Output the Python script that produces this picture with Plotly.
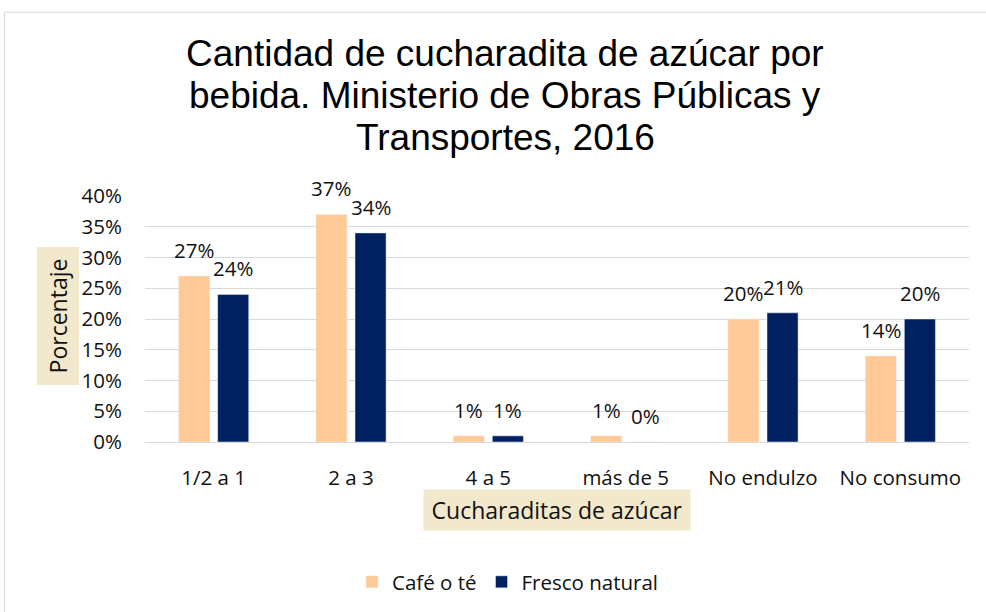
import plotly.graph_objects as go

categories = ["1/2 a 1", "2 a 3", "4 a 5", "más de 5", "No endulzo", "No consumo"]
cafe = [0.27, 0.37, 0.01, 0.01, 0.20, 0.14]
fresco = [0.24, 0.34, 0.01, 0.00, 0.21, 0.20]
series_names = ["Café o té", "Fresco natural"]
y_ticks = [0, 0.05, 0.10, 0.15, 0.20, 0.25, 0.30, 0.35, 0.40]
title_lines = ["Cantidad de cucharadita de azúcar por",
               "bebida. Ministerio de Obras Públicas y",
               "Transportes, 2016"]

FONT = "'Open Sans', sans-serif"
TXT = "#111111"
FS = 20.5

L, R, T, B = 145, 17, 196, 169
PW, PH = 986 - L - R, 612 - T - B
BARGAP = 0.431
BARGROUPGAP = 0.205


def px(xabs):
    return (xabs - L) / PW


def py(yabs):
    return (612 - B - yabs) / PH


fig = go.Figure()
colors = ["#FFCA97", "#002060"]
for vals, name, color in [(cafe, series_names[0], colors[0]), (fresco, series_names[1], colors[1])]:
    fig.add_trace(go.Bar(x=categories, y=vals, name=name, marker_color=color,
                         hoverinfo="x+y"))

# data labels placed above each bar via the axes
cat_w = PW / len(categories)
slot = (1 - BARGAP) * cat_w / 2
for k, vals in enumerate([cafe, fresco]):
    off = (k - 0.5) * slot
    for c, v in zip(categories, vals):
        fig.add_annotation(x=c, y=v, xref="x", yref="y", text=f"{v:.0%}",
                           showarrow=False, xanchor="center", yanchor="bottom",
                           xshift=off, yshift=11, borderpad=0,
                           font=dict(size=FS, color=TXT, family=FONT))

fig.update_layout(
    width=986, height=612,
    paper_bgcolor="white", plot_bgcolor="white",
    margin=dict(l=L, r=R, t=T, b=B),
    barmode="group", bargap=BARGAP, bargroupgap=BARGROUPGAP,
    font=dict(family=FONT, size=FS, color=TXT),
    legend=dict(orientation="h", x=px(508), xanchor="center", y=py(582), yanchor="middle",
                font=dict(size=FS, family=FONT, color=TXT), traceorder="normal",
                itemwidth=30),
    showlegend=True,
)

title_y = [53, 95, 137]
for line, yy in zip(title_lines, title_y):
    fig.add_annotation(text=line, xref="paper", yref="paper",
                       x=px(505), y=py(yy),
                       xanchor="center", yanchor="middle", showarrow=False,
                       font=dict(family="Liberation Sans, Arial, sans-serif", size=37, color="#000000"))

fig.update_yaxes(range=[0, 0.40], tickvals=y_ticks, tickformat=".0%", showgrid=True,
                 gridcolor="#D9D9D9", gridwidth=1, zeroline=False,
                 ticks="outside", ticklen=18, tickcolor="rgba(0,0,0,0)",
                 tickfont=dict(size=FS, family=FONT, color=TXT), showline=False)
fig.update_xaxes(showline=True, linecolor="#D9D9D9", linewidth=1,
                 ticks="outside", ticklen=17, tickcolor="rgba(0,0,0,0)",
                 tickfont=dict(size=FS, family=FONT, color=TXT))

fig.add_annotation(text="Porcentaje", textangle=-90, xref="paper", yref="paper",
                   x=px(57.5), y=py(316.5), xanchor="center", yanchor="middle",
                   showarrow=False, bgcolor="#F2E8CC", borderpad=4, width=129, height=33,
                   font=dict(size=23, family=FONT, color=TXT))
fig.add_annotation(text="Cucharaditas de azúcar", xref="paper", yref="paper",
                   x=px(557), y=py(511.5), xanchor="center", yanchor="middle",
                   showarrow=False, bgcolor="#F2E8CC", borderpad=4, width=258, height=32,
                   font=dict(size=23, family=FONT, color=TXT))

fig.add_shape(type="rect", xref="paper", yref="paper",
              x0=px(4.5), x1=px(990), y0=py(616), y1=py(11.5),
              line=dict(color="#D9D9D9", width=1), fillcolor="rgba(0,0,0,0)", layer="below")

fig.write_html("out.html", config={"displayModeBar": False},
               post_script="document.body.style.margin='0';")
